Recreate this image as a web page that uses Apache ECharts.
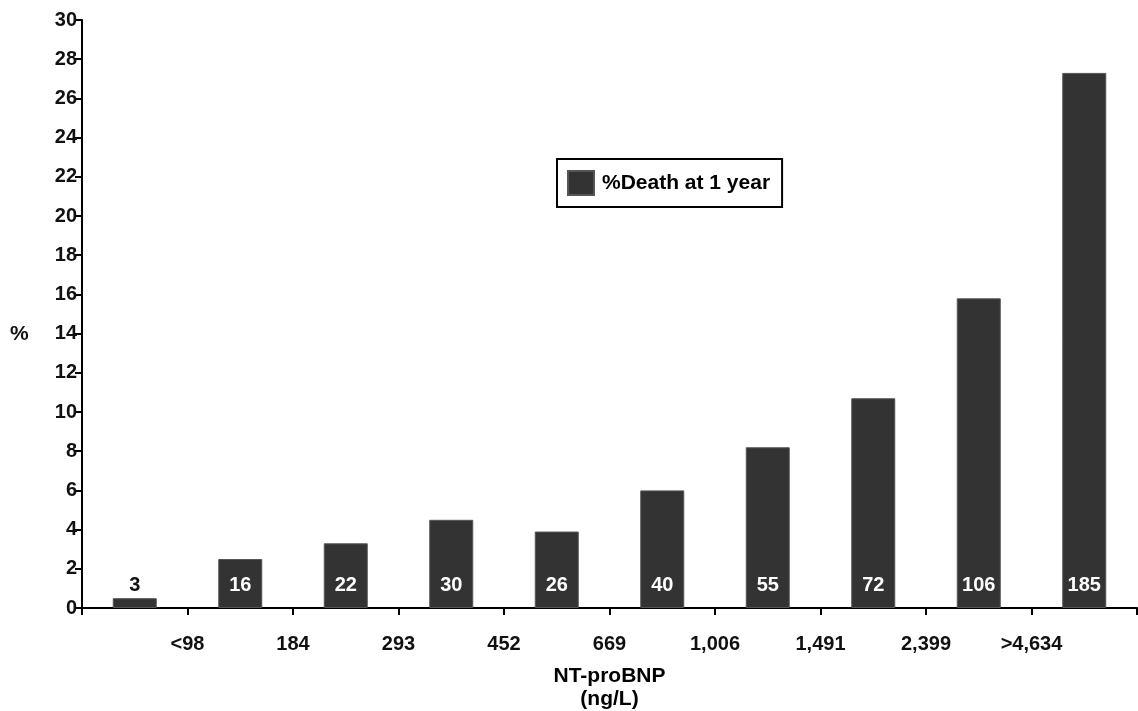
<!DOCTYPE html>
<html><head><meta charset="utf-8">
<script src="https://cdn.jsdelivr.net/npm/echarts@6/dist/echarts.min.js"></script>
<style>html,body{margin:0;padding:0;background:#fff}#c{width:1138px;height:711px}</style>
</head><body><div id="c"></div>
<script>
const categories = ['g1','g2','g3','g4','g5','g6','g7','g8','g9','g10'];
const deathPct = [0.5, 2.5, 3.3, 4.5, 3.9, 6.0, 8.2, 10.7, 15.8, 27.3];
const deathCounts = ['3','16','22','30','26','40','55','72','106','185'];
const boundaryLabels = ['', '<98', '184', '293', '452', '669', '1,006', '1,491', '2,399', '>4,634', ''];
const yTicks = [0, 30, 2];

const F = 'Liberation Sans, Arial, sans-serif';
const chart = echarts.init(document.getElementById('c'));
chart.setOption({
  backgroundColor: '#fff',
  animation: false,
  grid: {left: 82, right: 1, top: 20, bottom: 103, containLabel: false, outerBoundsMode: 'none'},
  legend: {
    left: 557, top: 159, orient: 'horizontal',
    padding: [11, 12, 11, 10],
    borderColor: '#000', borderWidth: 2,
    itemWidth: 26, itemHeight: 24, itemGap: 10,
    textStyle: {fontFamily: F, fontWeight: 'bold', fontSize: 21, color: '#000', padding: [0, 0, 0, 3]},
    data: [{name: '%Death at 1 year', icon: 'rect'}]
  },
  xAxis: [{
    type: 'category', data: categories, boundaryGap: true, position: 'bottom',
    axisLine: {lineStyle: {color: '#000', width: 2}},
    axisTick: {show: true, inside: false, length: 7, lineStyle: {color: '#000', width: 2}},
    axisLabel: {show: false},
    name: 'NT-proBNP\n(ng/L)', nameLocation: 'middle', nameGap: 57,
    nameTextStyle: {fontFamily: F, fontWeight: 'bold', fontSize: 21, color: '#000', lineHeight: 23}
  }, {
    type: 'category', data: boundaryLabels, boundaryGap: false, position: 'bottom', offset: 0,
    axisLine: {show: false}, axisTick: {show: false},
    axisLabel: {interval: 0, margin: 26, fontFamily: F, fontWeight: 'bold', fontSize: 20, color: '#111'}
  }],
  yAxis: {
    type: 'value', min: yTicks[0], max: yTicks[1], interval: yTicks[2],
    axisLine: {show: true, lineStyle: {color: '#000', width: 2}},
    axisTick: {show: true, inside: false, length: 7, lineStyle: {color: '#000', width: 2}},
    splitLine: {show: false},
    axisLabel: {margin: 5, fontFamily: F, fontWeight: 'bold', fontSize: 20, color: '#111'}
  },
  graphic: [{type: 'text', left: 10, top: 324, style: {text: '%', font: 'bold 21px ' + F, fill: '#111'}}],
  series: [{
    name: '%Death at 1 year', type: 'bar', xAxisIndex: 0, barWidth: 44,
    itemStyle: {color: '#333333', borderColor: '#555', borderWidth: 1},
    data: deathPct.map((v, i) => ({
      value: v,
      label: {color: i === 0 ? '#111' : '#fff'}
    })),
    label: {
      show: true, position: 'insideBottom', distance: 13,
      fontFamily: F, fontWeight: 'bold', fontSize: 20,
      formatter: p => deathCounts[p.dataIndex]
    }
  }]
});
</script></body></html>
